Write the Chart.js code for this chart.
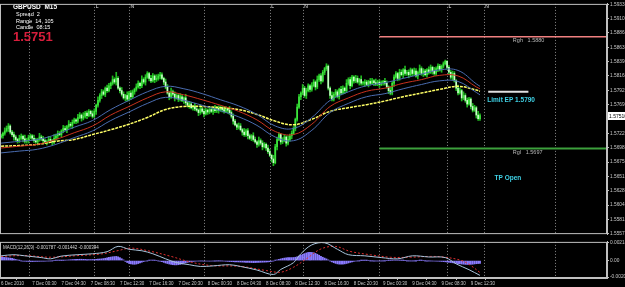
<!DOCTYPE html>
<html>
<head>
<meta charset="utf-8">
<script src="https://cdn.jsdelivr.net/npm/chart.js@4.4.1/dist/chart.umd.min.js"></script>
<style>
  html, body { margin:0; padding:0; background:#000; }
  #wrap { position:relative; width:625px; height:287px; background:#000; overflow:hidden; }
  #mainBox { position:absolute; left:0; top:0; width:625px; height:238px; }
  #macdBox { position:absolute; left:0; top:238px; width:625px; height:49px; }
</style>
</head>
<body>
<div id="wrap">
  <div id="mainBox"><canvas id="mainChart" width="625" height="238"></canvas></div>
  <div id="macdBox"><canvas id="macdChart" width="625" height="49"></canvas></div>
</div>
<script>
// GBPUSD M15 candles, bar 0 = 6 Dec 2010 20:15
const openP = [
1.5716,1.5718,1.5722,1.5726,1.5730,1.5734,1.5724,1.5720,1.5716,1.5712,
1.5710,1.5714,1.5717,1.5713,1.5709,1.5711,1.5715,1.5718,1.5714,1.5710,
1.5708,1.5712,1.5716,1.5713,1.5710,1.5707,1.5709,1.5712,1.5710,1.5708,
1.5714,1.5718,1.5722,1.5720,1.5726,1.5730,1.5728,1.5733,1.5737,1.5735,
1.5740,1.5744,1.5742,1.5748,1.5752,1.5747,1.5750,1.5755,1.5751,1.5758,
1.5754,1.5750,1.5758,1.5768,1.5776,1.5784,1.5790,1.5786,1.5796,1.5792,
1.5800,1.5804,1.5810,1.5806,1.5812,1.5796,1.5792,1.5786,1.5780,1.5784,
1.5778,1.5788,1.5782,1.5790,1.5794,1.5798,1.5804,1.5800,1.5810,1.5806,
1.5814,1.5820,1.5812,1.5808,1.5816,1.5810,1.5812,1.5816,1.5818,1.5812,
1.5806,1.5798,1.5788,1.5782,1.5790,1.5786,1.5780,1.5784,1.5778,1.5782,
1.5776,1.5780,1.5772,1.5768,1.5770,1.5764,1.5766,1.5762,1.5760,1.5756,
1.5762,1.5758,1.5754,1.5760,1.5757,1.5761,1.5758,1.5762,1.5759,1.5763,
1.5760,1.5764,1.5761,1.5758,1.5762,1.5760,1.5756,1.5750,1.5742,1.5736,
1.5732,1.5734,1.5728,1.5724,1.5720,1.5726,1.5718,1.5714,1.5718,1.5712,
1.5708,1.5704,1.5710,1.5706,1.5700,1.5704,1.5698,1.5692,1.5686,1.5680,
1.5674,1.5700,1.5712,1.5720,1.5708,1.5710,1.5716,1.5706,1.5712,1.5718,
1.5722,1.5730,1.5745,1.5765,1.5782,1.5788,1.5796,1.5784,1.5792,1.5800,
1.5794,1.5800,1.5806,1.5798,1.5810,1.5816,1.5808,1.5822,1.5828,1.5832,
1.5796,1.5784,1.5778,1.5786,1.5790,1.5782,1.5794,1.5788,1.5796,1.5792,
1.5804,1.5810,1.5800,1.5814,1.5808,1.5812,1.5806,1.5810,1.5804,1.5804,
1.5806,1.5802,1.5807,1.5804,1.5808,1.5805,1.5803,1.5806,1.5802,1.5805,
1.5807,1.5804,1.5798,1.5792,1.5788,1.5804,1.5814,1.5820,1.5812,1.5822,
1.5818,1.5826,1.5820,1.5822,1.5818,1.5826,1.5820,1.5824,1.5816,1.5822,
1.5828,1.5820,1.5824,1.5818,1.5826,1.5822,1.5830,1.5824,1.5820,1.5828,
1.5832,1.5826,1.5832,1.5836,1.5840,1.5830,1.5822,1.5814,1.5820,1.5808,
1.5796,1.5788,1.5792,1.5780,1.5784,1.5776,1.5770,1.5778,1.5766,1.5760,
1.5764,1.5752,1.5746];
const highP = [
1.5721,1.5724,1.5731,1.5734,1.5738,1.5736,1.5727,1.5724,1.5719,1.5714,
1.5719,1.5721,1.5719,1.5719,1.5714,1.5719,1.5721,1.5720,1.5719,1.5714,
1.5714,1.5722,1.5719,1.5717,1.5713,1.5711,1.5717,1.5716,1.5712,1.5720,
1.5721,1.5726,1.5725,1.5728,1.5735,1.5734,1.5735,1.5743,1.5740,1.5744,
1.5747,1.5746,1.5753,1.5756,1.5754,1.5756,1.5758,1.5759,1.5761,1.5760,
1.5759,1.5762,1.5770,1.5782,1.5787,1.5794,1.5793,1.5798,1.5801,1.5804,
1.5806,1.5816,1.5813,1.5822,1.5815,1.5798,1.5797,1.5790,1.5786,1.5790,
1.5791,1.5792,1.5793,1.5796,1.5803,1.5808,1.5806,1.5816,1.5813,1.5818,
1.5823,1.5822,1.5817,1.5820,1.5818,1.5818,1.5819,1.5822,1.5821,1.5814,
1.5811,1.5802,1.5790,1.5796,1.5793,1.5790,1.5787,1.5786,1.5787,1.5786,
1.5782,1.5786,1.5775,1.5774,1.5773,1.5768,1.5771,1.5766,1.5762,1.5768,
1.5765,1.5762,1.5763,1.5762,1.5766,1.5765,1.5764,1.5768,1.5766,1.5767,
1.5767,1.5766,1.5766,1.5766,1.5764,1.5766,1.5759,1.5754,1.5745,1.5738,
1.5739,1.5738,1.5730,1.5730,1.5729,1.5730,1.5721,1.5720,1.5723,1.5716,
1.5710,1.5716,1.5713,1.5710,1.5707,1.5706,1.5703,1.5696,1.5688,1.5686,
1.5704,1.5716,1.5723,1.5722,1.5715,1.5720,1.5718,1.5718,1.5721,1.5726,
1.5733,1.5747,1.5770,1.5786,1.5790,1.5802,1.5799,1.5796,1.5803,1.5802,
1.5805,1.5810,1.5808,1.5816,1.5819,1.5820,1.5825,1.5830,1.5836,1.5834,
1.5798,1.5790,1.5789,1.5794,1.5793,1.5796,1.5799,1.5800,1.5798,1.5810,
1.5813,1.5814,1.5817,1.5816,1.5817,1.5816,1.5812,1.5816,1.5807,1.5810,
1.5809,1.5809,1.5812,1.5812,1.5810,1.5811,1.5809,1.5810,1.5808,1.5809,
1.5812,1.5808,1.5800,1.5798,1.5807,1.5818,1.5823,1.5822,1.5827,1.5826,
1.5828,1.5832,1.5825,1.5826,1.5829,1.5828,1.5829,1.5828,1.5824,1.5834,
1.5831,1.5828,1.5827,1.5828,1.5831,1.5834,1.5832,1.5830,1.5831,1.5836,
1.5835,1.5834,1.5839,1.5842,1.5841,1.5833,1.5825,1.5824,1.5823,1.5810,
1.5801,1.5796,1.5794,1.5790,1.5787,1.5780,1.5781,1.5780,1.5771,1.5768,
1.5766,1.5758,1.5754];
const lowP = [
1.5714,1.5714,1.5719,1.5724,1.5725,1.5721,1.5717,1.5711,1.5710,1.5706,
1.5707,1.5712,1.5708,1.5706,1.5706,1.5706,1.5713,1.5710,1.5707,1.5706,
1.5703,1.5709,1.5710,1.5705,1.5705,1.5703,1.5706,1.5708,1.5703,1.5705,
1.5711,1.5713,1.5718,1.5716,1.5723,1.5726,1.5723,1.5730,1.5732,1.5730,
1.5738,1.5738,1.5739,1.5746,1.5742,1.5744,1.5747,1.5746,1.5749,1.5750,
1.5747,1.5748,1.5753,1.5765,1.5773,1.5779,1.5784,1.5782,1.5789,1.5790,
1.5795,1.5801,1.5803,1.5801,1.5794,1.5788,1.5783,1.5778,1.5775,1.5775,
1.5775,1.5777,1.5780,1.5786,1.5791,1.5796,1.5795,1.5797,1.5803,1.5801,
1.5812,1.5808,1.5805,1.5806,1.5805,1.5807,1.5809,1.5811,1.5810,1.5802,
1.5795,1.5786,1.5777,1.5779,1.5783,1.5775,1.5778,1.5774,1.5775,1.5774,
1.5771,1.5769,1.5765,1.5763,1.5762,1.5760,1.5759,1.5758,1.5751,1.5753,
1.5755,1.5749,1.5752,1.5753,1.5754,1.5756,1.5753,1.5756,1.5756,1.5755,
1.5758,1.5757,1.5755,1.5756,1.5755,1.5753,1.5747,1.5737,1.5734,1.5728,
1.5729,1.5726,1.5719,1.5717,1.5717,1.5713,1.5712,1.5710,1.5709,1.5706,
1.5699,1.5701,1.5703,1.5695,1.5698,1.5694,1.5689,1.5684,1.5675,1.5669,
1.5672,1.5695,1.5710,1.5704,1.5705,1.5708,1.5701,1.5703,1.5709,1.5713,
1.5720,1.5726,1.5742,1.5763,1.5777,1.5785,1.5781,1.5779,1.5790,1.5790,
1.5791,1.5798,1.5793,1.5795,1.5807,1.5803,1.5806,1.5818,1.5825,1.5793,
1.5779,1.5775,1.5775,1.5781,1.5780,1.5778,1.5785,1.5786,1.5787,1.5789,
1.5801,1.5795,1.5798,1.5804,1.5805,1.5804,1.5801,1.5801,1.5801,1.5799,
1.5800,1.5798,1.5801,1.5802,1.5800,1.5800,1.5800,1.5797,1.5800,1.5801,
1.5801,1.5796,1.5787,1.5785,1.5785,1.5799,1.5812,1.5808,1.5809,1.5816,
1.5813,1.5817,1.5817,1.5813,1.5816,1.5816,1.5817,1.5814,1.5811,1.5819,
1.5817,1.5815,1.5816,1.5814,1.5819,1.5820,1.5819,1.5817,1.5817,1.5823,
1.5824,1.5822,1.5829,1.5834,1.5827,1.5819,1.5811,1.5809,1.5806,1.5792,
1.5785,1.5786,1.5775,1.5777,1.5773,1.5765,1.5768,1.5762,1.5757,1.5758,
1.5747,1.5743,1.5743];
const closeP = [
1.5718,1.5722,1.5726,1.5730,1.5734,1.5724,1.5720,1.5716,1.5712,1.5710,
1.5714,1.5717,1.5713,1.5709,1.5711,1.5715,1.5718,1.5714,1.5710,1.5708,
1.5712,1.5716,1.5713,1.5710,1.5707,1.5709,1.5712,1.5710,1.5708,1.5714,
1.5718,1.5722,1.5720,1.5726,1.5730,1.5728,1.5733,1.5737,1.5735,1.5740,
1.5744,1.5742,1.5748,1.5752,1.5747,1.5750,1.5755,1.5751,1.5758,1.5754,
1.5750,1.5758,1.5768,1.5776,1.5784,1.5790,1.5786,1.5796,1.5792,1.5800,
1.5804,1.5810,1.5806,1.5812,1.5796,1.5792,1.5786,1.5780,1.5784,1.5778,
1.5788,1.5782,1.5790,1.5794,1.5798,1.5804,1.5800,1.5810,1.5806,1.5814,
1.5820,1.5812,1.5808,1.5816,1.5810,1.5812,1.5816,1.5818,1.5812,1.5806,
1.5798,1.5788,1.5782,1.5790,1.5786,1.5780,1.5784,1.5778,1.5782,1.5776,
1.5780,1.5772,1.5768,1.5770,1.5764,1.5766,1.5762,1.5760,1.5756,1.5762,
1.5758,1.5754,1.5760,1.5757,1.5761,1.5758,1.5762,1.5759,1.5763,1.5760,
1.5764,1.5761,1.5758,1.5762,1.5760,1.5756,1.5750,1.5742,1.5736,1.5732,
1.5734,1.5728,1.5724,1.5720,1.5726,1.5718,1.5714,1.5718,1.5712,1.5708,
1.5704,1.5710,1.5706,1.5700,1.5704,1.5698,1.5692,1.5686,1.5680,1.5674,
1.5700,1.5712,1.5720,1.5708,1.5710,1.5716,1.5706,1.5712,1.5718,1.5722,
1.5730,1.5745,1.5765,1.5782,1.5788,1.5796,1.5784,1.5792,1.5800,1.5794,
1.5800,1.5806,1.5798,1.5810,1.5816,1.5808,1.5822,1.5828,1.5832,1.5796,
1.5784,1.5778,1.5786,1.5790,1.5782,1.5794,1.5788,1.5796,1.5792,1.5804,
1.5810,1.5800,1.5814,1.5808,1.5812,1.5806,1.5810,1.5804,1.5804,1.5806,
1.5802,1.5807,1.5804,1.5808,1.5805,1.5803,1.5806,1.5802,1.5805,1.5807,
1.5804,1.5798,1.5792,1.5788,1.5804,1.5814,1.5820,1.5812,1.5822,1.5818,
1.5826,1.5820,1.5822,1.5818,1.5826,1.5820,1.5824,1.5816,1.5822,1.5828,
1.5820,1.5824,1.5818,1.5826,1.5822,1.5830,1.5824,1.5820,1.5828,1.5832,
1.5826,1.5832,1.5836,1.5840,1.5830,1.5822,1.5814,1.5820,1.5808,1.5796,
1.5788,1.5792,1.5780,1.5784,1.5776,1.5770,1.5778,1.5766,1.5760,1.5764,
1.5752,1.5746,1.5751];

// moving averages, read every 10 bars
const maIdx = [0,10,20,30,40,50,60,70,80,90,100,110,120,130,140,150,160,170,180,190,200,210,220,230,240,250,260,262];
const maUpper = [1.5706,1.5709,1.5712,1.5720,1.5732,1.5743,1.5761,1.5776,1.5790,1.5799,1.5795,1.5787,1.5777,1.5767,1.5753,1.5734,1.5730,1.5748,1.5776,1.5790,1.5800,1.5805,1.5812,1.5819,1.5826,1.5825,1.5803,1.5799];
const maMid = [1.5698,1.5701,1.5704,1.5712,1.5723,1.5734,1.5752,1.5766,1.5780,1.5790,1.5785,1.5777,1.5768,1.5758,1.5744,1.5725,1.5720,1.5737,1.5766,1.5780,1.5791,1.5796,1.5804,1.5810,1.5817,1.5816,1.5798,1.5795];
const maLower = [1.5690,1.5693,1.5696,1.5704,1.5715,1.5726,1.5743,1.5757,1.5771,1.5781,1.5776,1.5768,1.5759,1.5749,1.5735,1.5716,1.5710,1.5727,1.5756,1.5771,1.5782,1.5787,1.5795,1.5802,1.5808,1.5807,1.5789,1.5785];
const maSlow = [1.5701,1.5702,1.5704,1.5709,1.5712,1.5720,1.5728,1.5737,1.5748,1.5761,1.5766,1.5766,1.5764,1.5761,1.5753,1.5742,1.5736,1.5745,1.5758,1.5764,1.5769,1.5775,1.5782,1.5788,1.5794,1.5799,1.5793,1.5791];

const priceTicks = [1.59335,1.59100,1.58865,1.58630,1.58395,1.58160,1.57925,1.57690,1.57455,1.57220,1.56985,1.56750,1.56515,1.56280,1.56045,1.55810,1.55575];
const priceTickLabels = ['1.59335','1.59100','1.58865','1.58630','1.58395','1.58160','1.57925','1.57690','1.57455','1.57220','1.56985','1.56750','1.56515','1.56280','1.56045','1.55810','1.55575'];

const timeIdx = [0,17,33,49,65,81,97,113,129,145,161,177,193,209,225,241,257];
const timeLabels = ['6 Dec 2010','7 Dec 00:30','7 Dec 04:30','7 Dec 08:30','7 Dec 12:30','7 Dec 16:30','7 Dec 20:30','8 Dec 00:30','8 Dec 04:30','8 Dec 08:30','8 Dec 12:30','8 Dec 16:30','8 Dec 20:30','9 Dec 00:30','9 Dec 04:30','9 Dec 08:30','9 Dec 12:30'];

const sepIdx = [15, 51, 70, 111, 147, 165, 207, 244, 264, 303];
const sessionIdx = [51, 70, 147, 165, 244, 264];
const sessionTags = ['L', 'N', 'L', 'N', 'L', 'N'];

const levelNames = ['Rgh', 'Rgl'];
const levelPrices = [1.5880, 1.5697];
const levelFrom = 207;
const limitPrice = 1.5790;
const lastPrice = 1.5751;

// MACD(12,26,9)
const macdIdx = [0,7,13,22,27,33,42,50,58,64,70,77,83,90,96,103,109,116,125,131,140,149,153,160,164,170,177,184,190,199,208,217,225,234,243,249,256,262];
const macdMain = [.00057,.00071,.00057,.00036,.00021,.00054,.00071,.00082,.00107,.00171,.00136,.00118,.00082,.00021,-.00025,-.0005,-.00071,-.00064,-.0005,-.00071,-.00114,-.00168,-.00107,-.00025,.00082,.00189,.00214,.00136,.00071,.00057,.00036,.00021,.00057,.00043,.00036,-.0004,-.0011,-.001787];
const sigIdx = [0,13,27,42,55,64,71,82,93,104,115,131,145,153,160,167,175,183,191,202,213,224,235,243,252,257,262];
const macdSignal = [.0005,.0006,.0004,.0006,.0008,.0012,.0015,.0011,.0005,-.0002,-.0006,-.0007,-.0012,-.0014,-.0008,.0002,.0014,.0017,.0011,.0007,.0004,.0004,.0005,.0004,0,-.0006,-.001442];
const macdHist = [
.00042,.00040,.00038,.00036,.00033,.00030,.00026,.00020,.00014,
.00008,.00002,-.00003,-.00006,-.00008,-.00010,-.00011,-.00012,-.00012,-.00011,-.00010,-.00010,-.00009,-.00008,-.00008,-.00007,-.00006,-.00005,
-.00004,-.00002,0,.00002,.00003,.00002,.00001,.00002,.00004,
.00006,.00008,.00010,.00012,.00013,.00014,.00015,.00016,.00016,.00015,.00014,.00013,.00012,.00012,.00013,.00014,.00015,.00017,.00019,.00021,.00024,.00028,
.00033,.00038,.00042,.00046,.00048,.00050,.00045,.00035,.00022,.00008,
-.00010,-.00024,-.00034,-.00040,-.00044,-.00045,-.00042,-.00036,-.00028,-.00020,
-.00012,-.00006,-.00002,.00002,.00004,.00003,.00002,0,-.00003,-.00008,-.00014,-.00022,-.00030,-.00036,
-.00042,-.00046,-.00050,-.00052,-.00052,-.00050,-.00046,-.00040,-.00034,-.00028,-.00022,-.00016,
-.00012,-.00010,-.00008,-.00006,-.00005,-.00004,-.00004,-.00005,-.00006,-.00006,-.00007,-.00006,-.00005,-.00004,-.00003,-.00002,-.00003,-.00004,-.00006,-.00008,-.00010,-.00012,-.00013,-.00014,-.00015,-.00016,-.00017,-.00018,-.00019,-.00020,-.00021,-.00022,-.00023,-.00024,-.00025,-.00024,-.00023,-.00022,-.00021,-.00020,-.00019,-.00018,-.00017,-.00014,-.00010,-.00005,.00002,
.00008,.00014,.00020,.00026,.00030,.00033,.00035,.00036,.00036,.00037,.00040,
.00046,.00054,.00064,.00074,.00084,.00092,.00098,.00100,.00098,.00094,.00086,.00076,.00064,.00052,
.00040,.00030,.00020,.00008,-.00004,-.00016,-.00026,
-.00034,-.00040,-.00043,-.00044,-.00043,-.00040,-.00035,-.00029,-.00022,-.00016,-.00010,
-.00006,-.00003,-.00001,.00001,.00002,.00002,.00001,0,-.00001,-.00002,-.00003,-.00004,-.00004,-.00004,-.00003,-.00002,-.00001,0,.00001,.00002,.00003,.00004,.00004,.00004,.00003,.00002,.00001,0,-.00001,-.00002,-.00003,-.00003,-.00002,-.00001,0,.00001,.00001,0,-.00001,-.00002,-.00003,-.00004,-.00005,-.00006,-.00007,-.00008,-.00009,
-.00011,-.00013,-.00015,-.00018,-.00021,-.00024,-.00027,-.00030,-.00033,-.00036,-.00039,-.00042,-.00044,-.00046,-.00047,-.00047,-.00046,-.00044,-.00041,-.00038,-.00036,-.000344];
const macdTicks = [0.002143, 0, -0.002];
const macdTickLabels = ['0.002143', '0.00', '-0.00200'];

const xMin = -0.6, xMax = 331.5;
const SANS = "'Liberation Sans', Arial, sans-serif";
const GREY = '#c0c0c0';

Chart.defaults.font.family = SANS;
Chart.defaults.color = '#c8c8c8';
Chart.defaults.animation = false;

// dotted day / session separators + window frame
const framePlugin = {
  id: 'frame',
  beforeDatasetsDraw(chart) {
    const {ctx, chartArea: a, scales: {x}} = chart;
    ctx.save();
    ctx.strokeStyle = '#8a8a8a';
    ctx.lineWidth = 1;
    ctx.setLineDash([1, 2]);
    sepIdx.forEach(i => {
      const px = Math.round(x.getPixelForValue(i)) + 0.5;
      ctx.beginPath(); ctx.moveTo(px, a.top); ctx.lineTo(px, a.bottom); ctx.stroke();
    });
    ctx.restore();
  },
  afterDraw(chart) {
    const {ctx, chartArea: a} = chart;
    ctx.save();
    ctx.strokeStyle = GREY;
    ctx.lineWidth = 1;
    ctx.strokeRect(a.left + 0.5, a.top + 0.5, a.right - a.left - 1, a.bottom - a.top - 1);
    ctx.restore();
  }
};

const mainTextPlugin = {
  id: 'mainText',
  afterDatasetsDraw(chart) {
    const {ctx, chartArea: a, scales: {x, y}} = chart;
    ctx.save();
    ctx.textBaseline = 'alphabetic';
    ctx.fillStyle = '#e8e8e8';
    ctx.font = `5px ${SANS}`;
    sessionIdx.forEach((i, k) => ctx.fillText(sessionTags[k], x.getPixelForValue(i) + 1.5, a.top + 4.5));

    ctx.fillStyle = '#b8b8b8';
    ctx.font = `5.5px ${SANS}`;
    levelPrices.forEach((p, k) => ctx.fillText(levelNames[k] + '   ' + p.toFixed(4), x.getPixelForValue(280), y.getPixelForValue(p) + 5));

    ctx.fillStyle = '#3fd2e6';
    ctx.font = `bold 6.5px ${SANS}`;
    ctx.fillText('Limit EP ' + limitPrice.toFixed(4), x.getPixelForValue(266), y.getPixelForValue(limitPrice) + 10);
    ctx.fillText('TP Open', x.getPixelForValue(270), 180);

    ctx.fillStyle = '#ffffff';
    ctx.font = `bold 6.5px ${SANS}`;
    ctx.fillText('GBPUSD  M15', 13, 8.5);
    ctx.font = `5.5px ${SANS}`;
    ctx.fillText('Spread  2', 16, 16);
    ctx.fillText('Range  14, 105', 16, 22.5);
    ctx.fillText('Candle  08:15', 16, 29);
    ctx.fillStyle = '#d81e3c';
    ctx.font = `bold 13px ${SANS}`;
    ctx.fillText(lastPrice.toFixed(4), 13, 40.5);
    ctx.restore();
  },
  afterDraw(chart) {
    const {ctx, chartArea: a, scales: {y}} = chart;
    const py = Math.round(y.getPixelForValue(lastPrice));
    ctx.save();
    ctx.fillStyle = '#ffffff';
    ctx.fillRect(a.right + 1, py - 4, 18, 8);
    ctx.fillStyle = '#000000';
    ctx.font = `5px ${SANS}`;
    ctx.textBaseline = 'middle';
    ctx.fillText(lastPrice.toFixed(5), a.right + 2, py + 0.5);
    ctx.restore();
  }
};

const macdTextPlugin = {
  id: 'macdText',
  afterDatasetsDraw(chart) {
    const {ctx, chartArea: a} = chart;
    ctx.save();
    ctx.fillStyle = '#d8d8d8';
    ctx.font = `4.5px ${SANS}`;
    ctx.textBaseline = 'alphabetic';
    const last = macdHist.length - 1;
    ctx.fillText('MACD(12,26,9) ' + macdMain[macdMain.length - 1].toFixed(6) + ' ' +
      macdSignal[macdSignal.length - 1].toFixed(6) + ' ' + macdHist[last].toFixed(6), a.left + 3, a.top + 7);
    ctx.restore();
  }
};

const line = (idx, vals, color, extra) => Object.assign({
  type: 'line',
  data: idx.map((v, k) => ({x: v, y: vals[k]})),
  borderColor: color, borderWidth: 1, pointRadius: 0, tension: 0.4, order: 0
}, extra || {});

new Chart(document.getElementById('mainChart'), {
  type: 'bar',
  data: {
    datasets: [
      line(maIdx, maUpper, '#4a6cb0'),
      line(maIdx, maLower, '#4a6cb0'),
      line(maIdx, maMid, '#c8321e'),
      line(maIdx, maSlow, '#ffff66', {borderWidth: 1.5, borderDash: [3, 1]}),
      line([levelFrom, xMax], [levelPrices[0], levelPrices[0]], '#f08080', {borderWidth: 1.5, tension: 0}),
      line([levelFrom, xMax], [levelPrices[1], levelPrices[1]], '#3ca03c', {borderWidth: 2, tension: 0}),
      line([266.5, 288.5], [limitPrice, limitPrice], '#e0e0e0', {borderWidth: 2, tension: 0}),
      {
        data: closeP.map((c, i) => ({x: i, y: [lowP[i], highP[i]]})),
        backgroundColor: '#20b820', barThickness: 1, grouped: false, order: 3
      },
      {
        data: closeP.map((c, i) => ({x: i, y: [openP[i], c]})),
        backgroundColor: closeP.map((c, i) => c < openP[i] ? '#c8ffc8' : '#3ee63e'),
        barThickness: 1, minBarLength: 1, grouped: false, order: 2
      }
    ]
  },
  options: {
    responsive: false,
    devicePixelRatio: 1,
    animation: false,
    layout: {padding: {top: 2, bottom: 1, left: 0, right: 0}},
    plugins: {legend: {display: false}, tooltip: {enabled: false}},
    scales: {
      x: {type: 'linear', min: xMin, max: xMax, offset: false, display: false},
      y: {
        position: 'right', min: 1.5557, max: 1.5934,
        afterFit(s) { s.width = 18; },
        afterBuildTicks(s) { s.ticks = priceTicks.map(v => ({value: v})); },
        ticks: {callback: (v, i) => priceTickLabels[i], autoSkip: false, font: {size: 4.8}, padding: 1, color: '#c8c8c8'},
        grid: {drawOnChartArea: false, drawTicks: true, tickLength: 2, color: GREY},
        border: {display: true, color: GREY}
      }
    }
  },
  plugins: [framePlugin, mainTextPlugin]
});

new Chart(document.getElementById('macdChart'), {
  type: 'bar',
  data: {
    datasets: [
      line(macdIdx, macdMain, '#a8c4dc', {tension: 0.35}),
      line(sigIdx, macdSignal, '#e03030', {tension: 0.35, borderDash: [2, 2], order: 1}),
      {
        data: macdHist.map((v, i) => ({x: i, y: v})),
        backgroundColor: '#8b7bff', barThickness: 1.2, grouped: false, order: 2
      }
    ]
  },
  options: {
    responsive: false,
    devicePixelRatio: 1,
    animation: false,
    layout: {padding: {top: 0, bottom: 0, left: 0, right: 0}},
    plugins: {legend: {display: false}, tooltip: {enabled: false}},
    scales: {
      x: {
        type: 'linear', min: xMin, max: xMax, offset: false,
        afterFit(s) { s.height = 9; },
        afterBuildTicks(s) { s.ticks = timeIdx.map(v => ({value: v})); },
        ticks: {callback: (v, i) => timeLabels[i], autoSkip: false, maxRotation: 0, align: 'start', font: {size: 4.5}, padding: 1, color: '#c8c8c8'},
        grid: {drawOnChartArea: false, drawTicks: true, tickLength: 2, color: GREY},
        border: {display: true, color: GREY}
      },
      y: {
        position: 'right', min: -0.0021, max: 0.00225,
        afterFit(s) { s.width = 18; },
        afterBuildTicks(s) { s.ticks = macdTicks.map(v => ({value: v})); },
        ticks: {callback: (v, i) => macdTickLabels[i], autoSkip: false, font: {size: 4.8}, padding: 1, color: '#c8c8c8'},
        grid: {drawOnChartArea: false, drawTicks: true, tickLength: 2, color: GREY},
        border: {display: true, color: GREY}
      }
    }
  },
  plugins: [framePlugin, macdTextPlugin]
});
</script>
</body>
</html>
